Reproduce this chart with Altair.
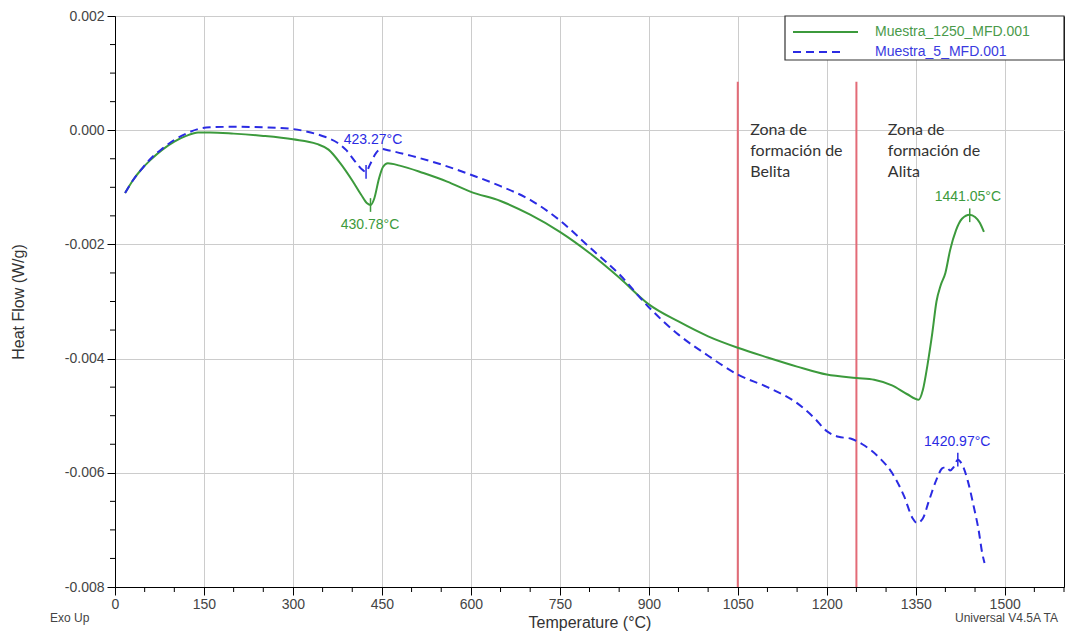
import altair as alt
import pandas as pd

# ---- data ----
temp_1250 = [17, 30, 45, 60, 80, 100, 120, 140, 160, 200, 250, 300, 340, 360, 380, 400, 415, 425, 431,
             437, 445, 452, 460, 480, 520, 560, 600, 650, 700, 750, 800, 850, 900, 950, 1000, 1050,
             1100, 1150, 1200, 1250, 1280, 1310, 1335, 1355, 1362, 1370, 1378, 1385, 1392, 1400, 1408,
             1418, 1428, 1441, 1450, 1458, 1465]
hf_1250 = [-0.00110, -0.00088, -0.00068, -0.00052, -0.00034, -0.00020, -0.00010, -0.00004, -0.00004,
           -0.00006, -0.00010, -0.00016, -0.00024, -0.00034, -0.00058, -0.00088, -0.00113, -0.00128,
           -0.00131, -0.00120, -0.00085, -0.00064, -0.00058, -0.00062, -0.00075, -0.00090, -0.00108,
           -0.00124, -0.00148, -0.00178, -0.00215, -0.00258, -0.00305, -0.00335, -0.00361, -0.00381,
           -0.00398, -0.00414, -0.00428, -0.00434, -0.00437, -0.00447, -0.00462, -0.00472, -0.00455,
           -0.00410, -0.00355, -0.00300, -0.00272, -0.00250, -0.00210, -0.00175, -0.00155, -0.00148,
           -0.00152, -0.00162, -0.00178]

temp_5 = [17, 30, 45, 60, 80, 100, 120, 140, 160, 200, 250, 300, 330, 355, 375, 390, 405, 418, 423,
          430, 440, 450, 460, 500, 550, 600, 650, 700, 750, 800, 850, 900, 950, 1000, 1050, 1100,
          1150, 1180, 1200, 1220, 1240, 1260, 1290, 1310, 1330, 1345, 1352, 1362, 1372, 1385, 1395,
          1402, 1408, 1414, 1421, 1428, 1438, 1448, 1456, 1462, 1466]
hf_5 = [-0.00110, -0.00088, -0.00068, -0.00050, -0.00032, -0.00017, -0.00006, 0.00002, 0.00005,
        0.00006, 0.00005, 0.00002, -0.00004, -0.00012, -0.00022, -0.00035, -0.00055, -0.00070,
        -0.00073, -0.00060, -0.00040, -0.00033, -0.00035, -0.00045, -0.00060, -0.00078, -0.00098,
        -0.00122, -0.00158, -0.00205, -0.00252, -0.00310, -0.00358, -0.00395, -0.00428, -0.00450,
        -0.00478, -0.00505, -0.00527, -0.00537, -0.00540, -0.00550, -0.00575, -0.00600, -0.00640,
        -0.00680, -0.00688, -0.00680, -0.00650, -0.00612, -0.00592, -0.00590, -0.00596, -0.00590,
        -0.00577, -0.00585, -0.00615, -0.00660, -0.00700, -0.00740, -0.00758]

series_names = ["Muestra_1250_MFD.001", "Muestra_5_MFD.001"]
series_colors = ["#3c9a3c", "#2b2be3"]

peak_text = ["430.78°C", "423.27°C", "1441.05°C", "1420.97°C"]
peak_series = [0, 1, 0, 1]
peak_x = [430.78, 423.27, 1441.05, 1420.97]
peak_y = [-0.00131, -0.00073, -0.00149, -0.00577]
peak_label_x = [430, 435, 1438, 1420]
peak_label_y = [-0.00166, -0.00017, -0.00117, -0.00546]

zone_x = [1050, 1250]
zone_top = 0.00085
zone_text = ["Zona de\nformación de\nBelita", "Zona de\nformación de\nAlita"]
zone_text_x = [1071, 1303]
zone_text_y = 0.00015

x_major = list(range(0, 1501, 150))
x_minor = [v for v in range(0, 1601, 50) if v % 150 != 0]
y_major = [-0.008, -0.006, -0.004, -0.002, 0.0, 0.002]
y_minor = [round(-0.008 + 0.0005 * i, 4) for i in range(21) if i % 4 != 0]

W, H = 949, 571
FONT = "Liberation Sans"

xscale = alt.Scale(domain=[0, 1600], nice=False, zero=False)
yscale = alt.Scale(domain=[-0.008, 0.002], nice=False, zero=False)
xaxis = alt.Axis(values=x_major, title="Temperature (°C)", grid=True, tickSize=8, format="d",
                 labelFontSize=14, titleFontSize=16, titlePadding=3, labelPadding=2,
                 labelFlush=False)
yaxis = alt.Axis(values=y_major, title="Heat Flow (W/g)", grid=True, tickSize=8,
                 labelFontSize=14, titleFontSize=16, titlePadding=38, labelPadding=3,
                 labelExpr="replace(format(datum.value, '.3f'), '\u2212', '-')")
X = alt.X("x:Q", scale=xscale, axis=xaxis)
Y = alt.Y("y:Q", scale=yscale, axis=yaxis)

df1 = pd.DataFrame({"x": temp_1250, "y": hf_1250})
df5 = pd.DataFrame({"x": temp_5, "y": hf_5})

line1 = alt.Chart(df1).mark_line(color=series_colors[0], strokeWidth=2,
                                 interpolate="monotone").encode(x=X, y=Y)
line5 = alt.Chart(df5).mark_line(color=series_colors[1], strokeWidth=2, strokeDash=[8, 5],
                                 interpolate="monotone").encode(x=X, y=Y)

zdf = pd.DataFrame({"x": zone_x, "y": [-0.008] * 2, "y2": [zone_top] * 2})
zones = alt.Chart(zdf).mark_rule(color="#e36b77", strokeWidth=2).encode(x=X, y=Y, y2="y2:Q")

ztdf = pd.DataFrame({"x": zone_text_x, "y": [zone_text_y] * 2, "t": zone_text})
ztext = alt.Chart(ztdf).mark_text(align="left", baseline="top", font="Lato", fontSize=16,
                                  lineBreak="\n", lineHeight=21, color="#333333").encode(
    x=X, y=Y, text="t:N")

pdf = pd.DataFrame({"x": peak_label_x, "y": peak_label_y, "t": peak_text,
                    "c": [series_colors[i] for i in peak_series]})
plabels = alt.Chart(pdf).mark_text(font=FONT, fontSize=14, baseline="middle").encode(
    x=X, y=Y, text="t:N", color=alt.Color("c:N", scale=None))

mdf = pd.DataFrame({"x": peak_x, "y": [v - 0.00012 for v in peak_y], "y2": [v + 0.00012 for v in peak_y],
                    "c": [series_colors[i] for i in peak_series]})
pmarks = alt.Chart(mdf).mark_rule(strokeWidth=1.5).encode(
    x=X, y=Y, y2="y2:Q", color=alt.Color("c:N", scale=None))

xm = alt.Chart(pd.DataFrame({"x": x_minor})).mark_rule(color="black").encode(
    x=X, y=alt.value(H), y2=alt.value(H + 5))
ym = alt.Chart(pd.DataFrame({"y": y_minor})).mark_rule(color="black").encode(
    y=Y, x=alt.value(-5), x2=alt.value(0))

one = pd.DataFrame({"a": [0]})
legend_box = alt.Chart(one).mark_rect(fill="white", stroke="#333333", strokeWidth=1.2).encode(
    x=alt.value(670), x2=alt.value(W), y=alt.value(0), y2=alt.value(44))
leg_l1 = alt.Chart(one).mark_rule(color=series_colors[0], strokeWidth=2).encode(
    x=alt.value(678), x2=alt.value(743), y=alt.value(16))
leg_l2 = alt.Chart(one).mark_rule(color=series_colors[1], strokeWidth=2, strokeDash=[8, 5]).encode(
    x=alt.value(678), x2=alt.value(730), y=alt.value(36))
leg_t1 = alt.Chart(one).mark_text(align="left", baseline="middle", font=FONT, fontSize=14,
                                  color="#4a9a4a", text=series_names[0]).encode(
    x=alt.value(760), y=alt.value(16))
leg_t2 = alt.Chart(one).mark_text(align="left", baseline="middle", font=FONT, fontSize=14,
                                  color="#3a3ae0", text=series_names[1]).encode(
    x=alt.value(760), y=alt.value(36))

exo = alt.Chart(one).mark_text(align="left", baseline="middle", font=FONT, fontSize=12,
                               color="#444444", text="Exo Up").encode(
    x=alt.value(-65), y=alt.value(H + 31))
univ = alt.Chart(one).mark_text(align="left", baseline="middle", font=FONT, fontSize=12,
                                color="#444444", text="Universal V4.5A TA").encode(
    x=alt.value(840), y=alt.value(H + 31))

chart = alt.layer(
    zones, line1, line5, pmarks, plabels, ztext, xm, ym,
    legend_box, leg_l1, leg_l2, leg_t1, leg_t2, exo, univ
).properties(
    width=W, height=H,
    padding={"left": 107, "top": 8, "right": 14, "bottom": 48},
    autosize=alt.AutoSizeParams(type="none"),
).configure_view(
    stroke="black", strokeWidth=1
).configure_axis(
    domainColor="black", tickColor="black", gridColor="#cccccc", gridWidth=1,
    labelFont=FONT, titleFont=FONT, labelColor="#444444", titleColor="#333333",
    titleFontWeight="normal"
)

chart.save("out.html", embed_options={"renderer": "svg", "actions": False})
